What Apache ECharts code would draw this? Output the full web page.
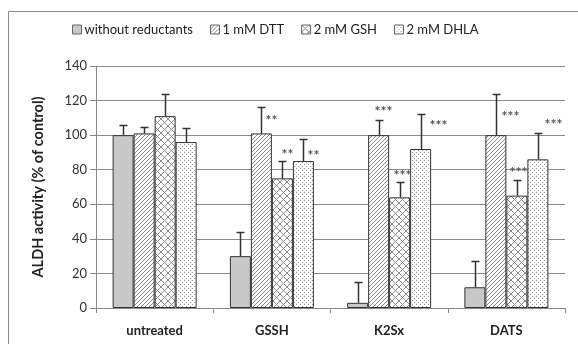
<!DOCTYPE html>
<html><head><meta charset="utf-8">
<script src="https://cdn.jsdelivr.net/npm/echarts@6/dist/echarts.min.js"></script>
<style>html,body{margin:0;padding:0;background:#fff}#c{width:578px;height:344px}</style>
</head><body><div id="c"></div>
<script>
const categories = ['untreated', 'GSSH', 'K2Sx', 'DATS'];
const seriesNames = ['without reductants', '1 mM DTT', '2 mM GSH', '2 mM DHLA'];
const noReductant = [100, 30, 3, 12];
const dtt = [101, 101, 100, 100];
const gsh = [111, 75, 64, 65];
const dhla = [96, 85, 92, 86];
const noReductantErr = [106, 44, 15, 27];
const dttErr = [105, 116, 109, 124];
const gshErr = [124, 85, 73, 74];
const dhlaErr = [104, 98, 112, 101];
const dttStars = ['', '**', '***', '***'];
const gshStars = ['', '**', '***', '***'];
const dhlaStars = ['', '**', '***', '***'];
const yTicks = [0, 20, 40, 60, 80, 100, 120, 140];

// label offsets (style only), per series per category [dx, dy]
const starOffsets = [
  [[0,0],[0,0],[0,0],[0,0]],
  [[0,0],[10,13],[4,-9],[14,22]],
  [[0,0],[5,-7],[2,-7],[1,-8]],
  [[0,0],[10,16],[17,11],[15,-9]]
];

function makePattern(kind) {
  const cv = document.createElement('canvas');
  let s;
  if (kind === 'diag') s = 4; else if (kind === 'cross') s = 7; else s = 4;
  cv.width = s; cv.height = s;
  const g = cv.getContext('2d');
  g.fillStyle = '#fff'; g.fillRect(0, 0, s, s);
  if (kind === 'diag') {
    g.strokeStyle = '#8a8a8a'; g.lineWidth = 1;
    g.beginPath();
    g.moveTo(-1, s + 1); g.lineTo(s + 1, -1);
    g.moveTo(-1, 1); g.lineTo(1, -1);
    g.moveTo(s - 1, s + 1); g.lineTo(s + 1, s - 1);
    g.stroke();
  } else if (kind === 'cross') {
    g.strokeStyle = '#8a8a8a'; g.lineWidth = 1;
    g.beginPath();
    g.moveTo(0, 0); g.lineTo(s, s);
    g.moveTo(0, s); g.lineTo(s, 0);
    g.stroke();
  } else {
    g.fillStyle = '#999';
    g.fillRect(0, 0, 1, 1);
    g.fillRect(2, 2, 1, 1);
  }
  return {image: cv, repeat: 'repeat'};
}

const fills = ['#c8c8c8', makePattern('diag'), makePattern('cross'), makePattern('dots')];
const values = [noReductant, dtt, gsh, dhla];
const errs = [noReductantErr, dttErr, gshErr, dhlaErr];
const stars = [['', '', '', ''], dttStars, gshStars, dhlaStars];
const BW = 21;

const errData = [];
for (let s = 0; s < 4; s++) {
  for (let c = 0; c < categories.length; c++) {
    errData.push([c, s, values[s][c], errs[s][c]]);
  }
}

const chart = echarts.init(document.getElementById('c'), null, {renderer: 'canvas'});
const font = 'Lato, "Liberation Sans", sans-serif';

const barSeries = seriesNames.map((n, i) => ({
  name: n, type: 'bar', data: values[i], barWidth: BW, barGap: '0%',
  itemStyle: {color: fills[i], borderColor: '#333', borderWidth: 1},
  emphasis: {disabled: true}, animation: false
}));

chart.setOption({
  animation: false,
  textStyle: {fontFamily: font},
  graphic: [{type: 'rect', shape: {x: 8.5, y: 11.5, width: 600, height: 400},
    style: {fill: 'none', stroke: '#8a8a8a', lineWidth: 1}, silent: true, z: -10}],
  legend: {
    data: seriesNames.map(n => ({name: n, itemStyle: {borderColor: '#666', borderWidth: 1}})),
    left: 67, top: 18, icon: 'rect', itemWidth: 9, itemHeight: 9,
    itemGap: 17, textStyle: {fontSize: 13, color: '#222', fontFamily: font, padding: [0,0,0,-2]},
    selectedMode: false
  },
  grid: {left: 96, right: 13, top: 66, bottom: 36, containLabel: false},
  xAxis: {
    type: 'category', data: categories,
    axisLine: {lineStyle: {color: '#888', width: 1}},
    axisTick: {show: true, length: 5, lineStyle: {color: '#888'}},
    axisLabel: {fontWeight: 'bold', fontSize: 13, color: '#222', margin: 16, fontFamily: font}
  },
  yAxis: {
    type: 'value', min: 0, max: 140, interval: 20,
    name: 'ALDH activity (% of control)', nameLocation: 'middle', nameGap: 50,
    nameTextStyle: {fontWeight: 'bold', fontSize: 14.5, color: '#222', fontFamily: font},
    axisLine: {show: true, lineStyle: {color: '#888'}},
    axisTick: {show: true, length: 6, lineStyle: {color: '#888'}},
    splitLine: {lineStyle: {color: '#8a8a8a', width: 1}},
    axisLabel: {fontSize: 13, color: '#333', margin: 9, fontFamily: font,
      formatter: v => yTicks.indexOf(v) >= 0 ? String(v) : ''}
  },
  series: barSeries.concat([{
    type: 'custom', name: 'err', data: errData, z: 10, silent: true,
    encode: {x: 0, y: 3},
    renderItem: function (params, api) {
      const c = api.value(0), s = api.value(1);
      const base = api.coord([c, api.value(2)]);
      const top = api.coord([c, api.value(3)]);
      const x = Math.round(base[0] + (s - 1.5) * BW) + 0.5;
      const yb = base[1], yt = Math.round(top[1]) + 0.5;
      const children = [
        {type: 'line', shape: {x1: x, y1: yb, x2: x, y2: yt}, style: {stroke: '#333', lineWidth: 1.5}},
        {type: 'line', shape: {x1: x - 4, y1: yt, x2: x + 4, y2: yt}, style: {stroke: '#333', lineWidth: 1.5}}
      ];
      const t = stars[s][c];
      if (t) {
        const off = starOffsets[s][c];
        children.push({type: 'text', x: x + off[0], y: yt + off[1],
          style: {text: t, fill: '#555', font: 'bold 14px ' + font, align: 'center', verticalAlign: 'middle'}});
      }
      return {type: 'group', children: children};
    }
  }])
});
</script></body></html>
